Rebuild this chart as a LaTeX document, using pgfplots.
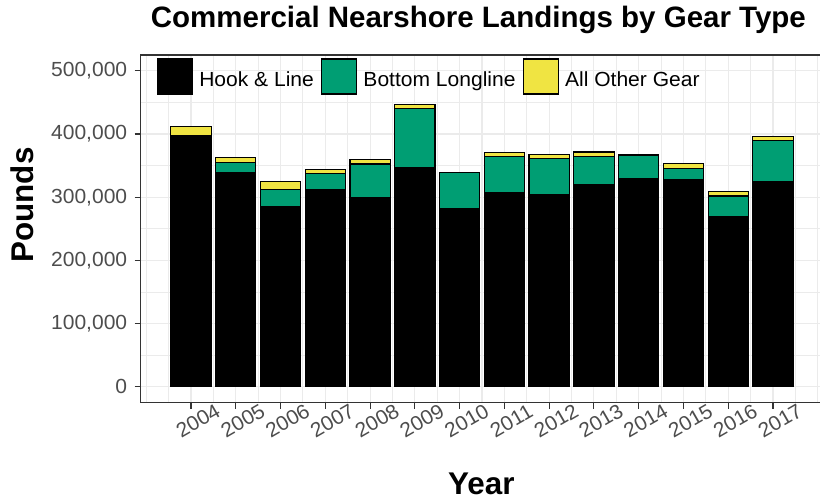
\documentclass[border=0pt]{standalone}
\usepackage{pgfplots}
\usepackage{pgfplotstable}
\pgfplotsset{compat=1.18}
\usepackage{fontspec}
\setmainfont{Liberation Sans}
\newfontfamily\regfont{Liberation Sans}[FakeStretch=1.03]
\definecolor{bllc}{HTML}{009E73}
\definecolor{othc}{HTML}{F0E442}
\definecolor{grid92}{HTML}{EBEBEB}
\definecolor{grey20}{HTML}{333333}
\definecolor{grey30}{HTML}{4D4D4D}

\pgfplotstableread{
idx year hook bll other
0  2004 398000 0     14500
1  2005 339000 16500 7000
2  2006 285000 27000 12500
3  2007 312000 25000 6500
4  2008 300000 52500 6500
5  2009 347500 93500 5500
6  2010 282000 56500 1200
7  2011 307000 57500 6500
8  2012 304000 57500 6500
9  2013 320000 45000 6500
10 2014 329000 37500 1200
11 2015 328600 17300 7000
12 2016 269000 33000 7000
13 2017 325500 64000 7000
}\landings

\pgfplotsset{mylegend/.style={legend image code/.code={\draw[##1, line width=1.1bp] (0bp,-14.5bp) rectangle (35bp,20.5bp);}}}

\begin{document}
\begin{tikzpicture}
\useasboundingbox (0bp,0bp) rectangle (820bp,500bp);
\begin{axis}[
  at={(140.7bp,97.3bp)}, anchor=south west,
  scale only axis, width=681.3bp, height=347.7bp,
  ybar stacked, bar width=0.9,
  xmin=-1.124, xmax=14.094, ymin=-25000, ymax=525000,
  xtick={0,...,13},
  xticklabels={2004,2005,2006,2007,2008,2009,2010,2011,2012,2013,2014,2015,2016,2017},
  minor xtick={-1.5,-1,...,14},
  ytick={0,100000,...,500000},
  minor ytick={50000,150000,...,450000},
  scaled y ticks=false,
  yticklabel style={/pgf/number format/fixed, /pgf/number format/1000 sep={,}, xshift=-4bp},
  grid=both,
  major grid style={grid92, line width=1.1bp},
  minor grid style={grid92, line width=1.1bp},
  tick pos=left, tick align=outside,
  major tick length=6bp, minor tick length=0pt,
  major tick style={grey20, line width=1.1bp},
  axis line style={grey20, line width=1.1bp},
  /pgf/number format/assume math mode=true,
  tick label style={font=\regfont\fontsize{20.5}{24}\selectfont, text=grey30},
  xticklabel style={rotate=30, anchor=center, yshift=-14bp},
  ylabel={Pounds}, xlabel={Year},
  label style={font=\bfseries\fontsize{31.5}{36}\selectfont},
  ylabel style={at={(axis description cs:-0.1576,0.5686)}, anchor=base},
  xlabel style={at={(axis description cs:0.5,-0.264)}, anchor=base},
  title={Commercial Nearshore Landings by Gear Type},
  title style={font=\bfseries\fontsize{29.6}{34}\selectfont, at={(axis description cs:0.4957,1)}, anchor=base, yshift=22bp},
  legend columns=3,
  legend cell align=left,
  legend style={at={(axis description cs:0,1)}, anchor=north west, xshift=15.8bp, yshift=-3.3bp,
    draw=none, fill=none, inner sep=0pt,
    font=\regfont\fontsize{20.5}{24}\selectfont,
    nodes={inner sep=0pt},
    /tikz/every odd column/.append style={column sep=6.5bp},
    /tikz/every even column/.append style={column sep=7bp}},
]
\addplot[fill=black, draw=black, line width=1.1bp, mylegend] table[x=idx, y=hook]{\landings};
\addplot[fill=bllc, draw=black, line width=1.1bp, mylegend] table[x=idx, y=bll]{\landings};
\addplot[fill=othc, draw=black, line width=1.1bp, mylegend] table[x=idx, y=other]{\landings};
\legend{Hook \& Line, Bottom Longline, All Other Gear}
\end{axis}
\end{tikzpicture}
\end{document}
